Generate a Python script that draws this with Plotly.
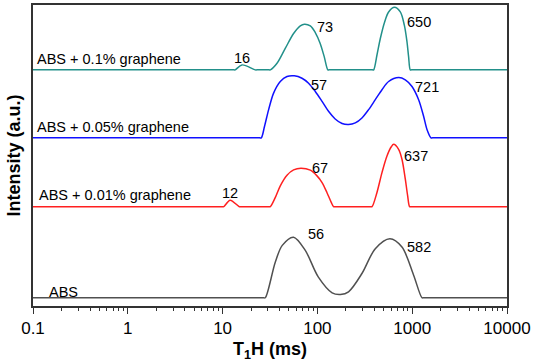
import math
import plotly.graph_objects as go

# T1H distributions (ms) and stacked intensity (a.u.)
abs_x = [0.1, 27, 28.2, 36.0, 42.6, 56, 74.5, 102, 143, 175,
         213, 295, 408, 582, 780, 1035, 1268, 1320, 10000]
abs_y = [8.3, 8.3, 8.3, 44.3, 61, 69.3, 56, 29.3, 13.3, 11.7,
         14.3, 32.7, 57.7, 67.7, 59.3, 31, 8.3, 8.3, 8.3]

g001_x = [0.1, 10.0, 10.3, 12, 15, 15.5,
          31, 31.9, 36.0, 40.6, 47.8, 56.1, 67, 84.2, 99, 112, 126, 140, 148, 153,
          365, 377, 425, 480, 542, 602, 637, 719, 780, 846, 895, 939, 970, 10000]
g001_y = [100, 100, 100, 106.5, 100, 100,
          100, 100, 109.3, 121, 131.7, 137, 138.7, 136.7, 131, 124.3, 114.3, 104.3, 100, 100,
          100, 100, 114.3, 134.3, 151, 160.3, 162.7, 157.7, 147.7, 127.7, 111, 100, 100, 100]

g005_x = [0.1, 24.5, 25.6, 27.7, 30.6, 34.5, 40.6, 47.8, 57, 68.8,
          80.7, 95.0, 112, 131, 154, 182, 213, 251, 295, 347,
          408, 480, 564, 721, 846, 995, 1169, 1319, 1432, 1578, 1640, 10000]
g005_y = [169.3, 169.3, 169.3, 181, 197.7, 214.3, 226, 231, 231.7, 229.3,
          224.3, 216, 206, 196, 188.3, 183.7, 182.7, 184.3, 189.3, 197.7,
          207.7, 217.7, 226, 230, 227.7, 221, 207.7, 191, 177.7, 169.3, 169.3, 169.3]

g01_x = [0.1, 13.2, 13.6, 16, 22.1, 23,
         31, 31.9, 37.5, 45.8, 56.1, 66.0, 73, 84.2, 95.0, 107, 118, 129, 133,
         380, 392, 425, 461, 512, 564, 650, 749, 826, 881, 916, 955, 985, 10000]
g01_y = [237.7, 237.7, 237.7, 242.7, 237.7, 237.7,
         237.7, 237.7, 244.3, 259.3, 274.3, 282, 283.7, 282, 275.3, 264.3, 251, 237.7, 237.7,
         237.7, 237.7, 252.7, 269.3, 286, 296, 300.7, 296, 282.7, 266, 251, 237.7, 237.7, 237.7]

names = ["ABS", "ABS + 0.01% graphene", "ABS + 0.05% graphene", "ABS + 0.1% graphene"]
peaks = [[56, 582], [12, 67, 637], [57, 721], [16, 73, 650]]

curves = [(abs_x, abs_y), (g001_x, g001_y), (g005_x, g005_y), (g01_x, g01_y)]
colors = ["#505050", "#ff2020", "#1010ff", "#22908a"]
# label offsets in px (xshift, yshift)
peak_shift = [[(22, 3), (29, -8)],
              [(0, 7), (19, 0), (22, -12)],
              [(25, -9), (28, -9)],
              [(0, 7), (21, -3), (25, -15)]]
name_shift = [(14, 6), (4, 11.5), (2, 11), (2, 11)]

fig = go.Figure()
for (xs, ys), c in zip(curves, colors):
    fig.add_trace(go.Scatter(x=xs, y=ys, mode="lines",
                             line=dict(color=c, width=1.5, shape="spline", smoothing=0.9),
                             showlegend=False, hoverinfo="skip"))

font_lbl = dict(family="Liberation Sans, Arial", size=14.5, color="black")
for i, (xs, ys) in enumerate(curves):
    fig.add_annotation(x=-1, y=ys[0], text=names[i], showarrow=False,
                       xanchor="left", yanchor="middle",
                       xshift=name_shift[i][0], yshift=name_shift[i][1], font=font_lbl)
    for p, (dx, dy) in zip(peaks[i], peak_shift[i]):
        fig.add_annotation(x=math.log10(p), y=ys[xs.index(p)], text=str(p), showarrow=False,
                           xanchor="center", yanchor="middle",
                           xshift=dx, yshift=dy, font=font_lbl)

fig.update_layout(
    width=534, height=362,
    margin=dict(l=33, r=27, t=3, b=56),
    plot_bgcolor="white", paper_bgcolor="white",
    font=dict(family="Liberation Sans, Arial", color="black"),
    xaxis=dict(type="log", range=[-1, 4],
               tickvals=[0.1, 1, 10, 100, 1000, 10000],
               ticktext=["0.1", "1", "10", "100", "1000", "10000"],
               ticks="outside", ticklen=6, tickwidth=1.2, tickcolor="#333",
               minor=dict(ticks="outside", ticklen=3, tickwidth=1, tickcolor="#333", dtick="D1"),
               showline=True, linecolor="#333", linewidth=1.5, mirror=True,
               showgrid=False, zeroline=False,
               tickfont=dict(size=17),
               title=dict(text="<b>T<sub>1</sub>H (ms)</b>", font=dict(size=18), standoff=6)),
    yaxis=dict(range=[0, 303], showticklabels=False, ticks="",
               showline=True, linecolor="#333", linewidth=1.5, mirror=True,
               showgrid=False, zeroline=False,
               title=dict(text="<b>Intensity (a.u.)</b>", font=dict(size=18), standoff=6)),
)

fig.write_html("out.html", config={"displayModeBar": False},
               post_script="document.body.style.margin='0';")
